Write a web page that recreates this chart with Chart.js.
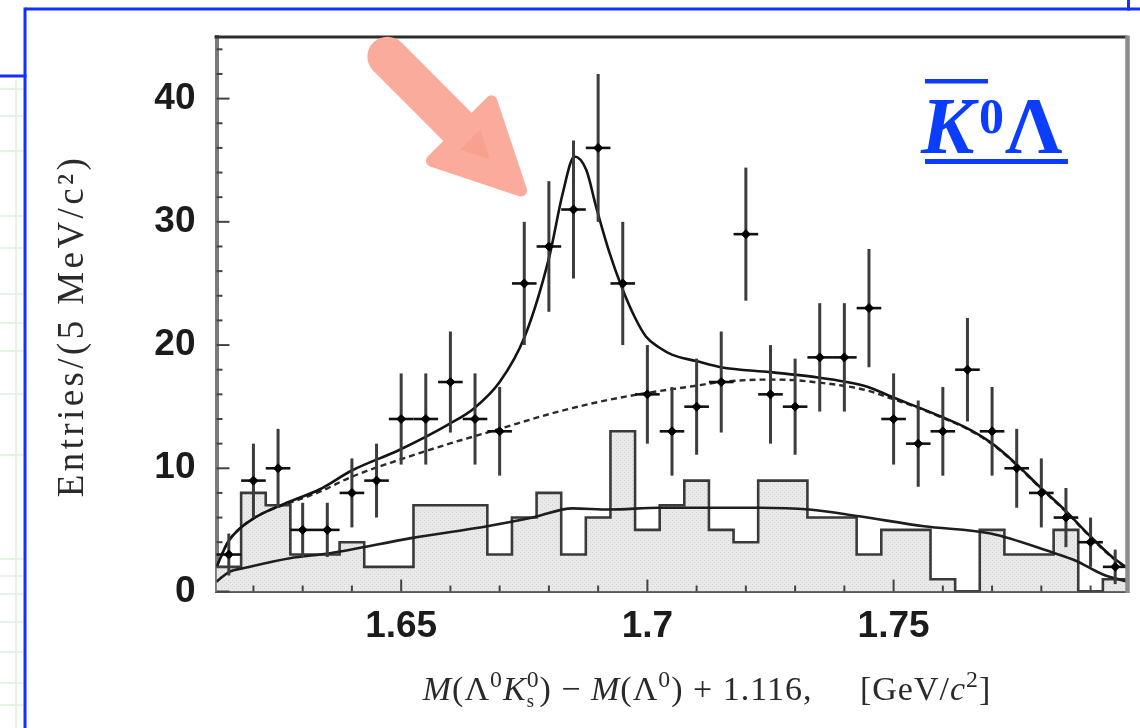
<!DOCTYPE html>
<html>
<head>
<meta charset="utf-8">
<script src="https://cdn.jsdelivr.net/npm/chart.js@4.4.1/dist/chart.umd.min.js"></script>
<style>
html,body{margin:0;padding:0;background:#fff;}
#wrap{width:1140px;height:728px;position:relative;overflow:hidden;}
</style>
</head>
<body>
<div id="wrap"><canvas id="c" width="1140" height="728"></canvas></div>
<script>
// ---------------- data ----------------
const binCenters = [1.615,1.620,1.625,1.630,1.635,1.640,1.645,1.650,1.655,1.660,1.665,1.670,1.675,1.680,1.685,1.690,1.695,1.700,1.705,1.710,1.715,1.720,1.725,1.730,1.735,1.740,1.745,1.750,1.755,1.760,1.765,1.770,1.775,1.780,1.785,1.790,1.795];
const entries = [3,9,10,5,5,8,9,14,14,17,14,13,25,28,31,36,25,16,13,15,17,29,16,15,19,19,23,14,12,13,18,13,10,8,6,4,2];
const entryErrors = [1.7,3.0,3.2,2.2,2.2,2.8,3.0,3.7,3.7,4.1,3.7,3.6,5.0,5.3,5.6,6.0,5.0,4.0,3.6,3.9,4.1,5.4,4.0,3.9,4.4,4.4,4.8,3.7,3.5,3.6,4.2,3.6,3.2,2.8,2.4,2.0,1.4];
const wrongSignHist = [2,8,7,3,3,4,2,2,7,7,7,3,6,8,3,6,13,5,7,9,5,4,9,9,6,6,3,5,5,1,0,5,3,3,5,0,1];
const binHalfWidth = 0.0025;

const fitTotalX = [1.6125,1.6148,1.6172,1.6199,1.6227,1.6274,1.6335,1.6399,1.6497,1.6598,1.6649,1.6700,1.6751,1.6801,1.6828,1.6852,1.6876,1.6896,1.6923,1.6947,1.6974,1.6997,1.7024,1.7051,1.7099,1.7149,1.7249,1.7298,1.7349,1.7398,1.7448,1.7496,1.7547,1.7596,1.7647,1.7697,1.7745,1.7794,1.7848,1.7894,1.7944,1.7975];
const fitTotalY = [2.0,4.0,5.1,5.9,6.5,7.3,8.3,9.8,11.5,13.6,14.9,17.0,20.7,27.2,32.3,35.3,34.2,31.2,27.5,24.8,22.3,20.7,19.8,19.2,18.7,18.2,17.8,17.6,17.35,17.05,16.6,15.8,15.0,14.2,13.3,12.1,10.5,8.6,6.6,4.7,2.8,1.9];

const fitBkgX = [1.6125,1.6148,1.6172,1.6199,1.6227,1.6274,1.6335,1.6399,1.6497,1.6598,1.6649,1.6700,1.6801,1.6903,1.6997,1.7099,1.7149,1.7249,1.7298,1.7349,1.7398,1.7448,1.7496,1.7547,1.7596,1.7647,1.7697,1.7745,1.7794,1.7848,1.7894,1.7944,1.7975];
const fitBkgY = [2.0,4.0,5.1,5.9,6.5,7.2,8.1,9.3,10.7,12.0,12.6,13.2,14.4,15.4,16.1,16.7,17.0,17.2,17.15,16.95,16.7,16.3,15.65,14.95,14.15,13.25,12.05,10.45,8.55,6.55,4.65,2.75,1.85];

const wsFitX = [1.6125,1.6151,1.6181,1.6274,1.6355,1.6523,1.6675,1.6767,1.6848,1.6923,1.7024,1.7227,1.7329,1.7430,1.7562,1.7697,1.7820,1.7870,1.7924,1.7975];
const wsFitY = [0.8,1.6,1.9,2.7,3.1,4.35,5.3,6.0,6.75,6.65,6.8,6.8,6.65,6.1,5.3,4.7,3.2,2.5,1.4,0.8];

const xTickValues = [1.65,1.7,1.75];
const xTickLabels = ['1.65','1.7','1.75'];
const yTickValues = [0,10,20,30,40];
const yTickLabels = ['0','10','20','30','40'];

const yTitleText = 'Entries/(5 MeV/c²)';
// arrow annotation in data coordinates (mass, entries)
const arrowTail = [1.6472, 43.4];
const arrowTip = [1.6752, 32.2];

// ---------------- helpers ----------------
const SANS = '"Liberation Sans", Arial, Helvetica, sans-serif';
const SERIF = '"Liberation Serif", "Times New Roman", serif';
const zip = (xs, ys) => xs.map((v, i) => ({x: v, y: ys[i]}));

const canvas = document.getElementById('c');
const ctx0 = canvas.getContext('2d');
const pc = document.createElement('canvas'); pc.width = 4; pc.height = 4;
const pcx = pc.getContext('2d');
pcx.fillStyle = '#e9e9e9'; pcx.fillRect(0, 0, 4, 4);
pcx.fillStyle = '#d3d3d3'; pcx.fillRect(0, 0, 1, 1); pcx.fillRect(2, 2, 1, 1);
const histPattern = ctx0.createPattern(pc, 'repeat');

const histData = binCenters.map((c, i) => ({x: c - binHalfWidth, y: wrongSignHist[i]}));
histData.push({x: binCenters[binCenters.length - 1] + binHalfWidth, y: wrongSignHist[wrongSignHist.length - 1]});

function seg(ctx, x1, y1, x2, y2) { ctx.beginPath(); ctx.moveTo(x1, y1); ctx.lineTo(x2, y2); ctx.stroke(); }

const errorBars = {
  id: 'errorBars',
  beforeDatasetDraw(chart, args) {
    const ds = chart.data.datasets[args.index];
    if (!ds.errorBars) return;
    const {ctx, scales: {x, y}} = chart;
    ctx.save();
    ds.data.forEach(p => {
      const px = x.getPixelForValue(p.x), py = y.getPixelForValue(p.y);
      ctx.strokeStyle = '#3c3c3c'; ctx.lineWidth = 3;
      seg(ctx, px, y.getPixelForValue(p.y + p.e), px, y.getPixelForValue(Math.max(0, p.y - p.e)));
      ctx.strokeStyle = '#111'; ctx.lineWidth = 2.6;
      seg(ctx, x.getPixelForValue(p.x - binHalfWidth), py, x.getPixelForValue(p.x + binHalfWidth), py);
    });
    ctx.restore();
  }
};

function richText(ctx, parts, cx, base, size, color, spacing) {
  ctx.letterSpacing = spacing + 'px';
  let w = 0;
  const items = parts.map(p => {
    const s = size * (p.scale || 1);
    const f = (p.it ? 'italic ' : '') + s + 'px ' + SERIF;
    ctx.font = f;
    let adv = ctx.measureText(p.t).width;
    if (p.sub) { ctx.font = (size * 0.55) + 'px ' + SERIF; adv = Math.max(adv, ctx.measureText(p.sub).width); }
    w += adv;
    return {p, f, adv};
  });
  let x = cx - w / 2;
  ctx.fillStyle = color; ctx.textBaseline = 'alphabetic'; ctx.textAlign = 'left';
  items.forEach(it => {
    ctx.font = it.f;
    ctx.fillText(it.p.t, x, base + (it.p.dy || 0) * size);
    if (it.p.sub) { ctx.font = (size * 0.55) + 'px ' + SERIF; ctx.fillText(it.p.sub, x, base + 0.22 * size); }
    x += it.adv;
  });
  ctx.letterSpacing = '0px';
}

const decor = {
  id: 'decor',
  afterDraw(chart) {
    const {ctx, chartArea: a, scales: {x, y}} = chart;
    ctx.save();
    // inner ticks
    ctx.strokeStyle = '#444'; ctx.lineWidth = 2;
    for (let v = 0; v <= 44; v += 2) {
      const py = y.getPixelForValue(v);
      seg(ctx, a.left, py, a.left + (v % 10 === 0 ? 13 : 6), py);
    }
    for (let k = 162; k <= 179; k++) {
      const px = x.getPixelForValue(k / 100);
      seg(ctx, px, a.bottom, px, a.bottom - (k % 5 === 0 ? 12 : 6));
    }
    // frame top/right
    ctx.strokeStyle = '#2e2e2e'; ctx.lineWidth = 3;
    seg(ctx, a.left - 2, a.top, a.right, a.top);
    ctx.strokeStyle = '#8c8c8c'; ctx.lineWidth = 4.5;
    seg(ctx, a.right, a.top - 1.5, a.right, a.bottom + 1.5);

    // y title (rotated)
    ctx.save();
    ctx.translate(73, 326); ctx.rotate(-Math.PI / 2);
    ctx.font = '37px ' + SERIF; ctx.fillStyle = '#2a2a2a';
    ctx.textAlign = 'center'; ctx.textBaseline = 'middle';
    ctx.letterSpacing = '3.4px';
    ctx.fillText(yTitleText, 0, 0);
    ctx.letterSpacing = '0px';
    ctx.restore();

    // x title
    richText(ctx, [
      {t: 'M', it: true}, {t: '(Λ'}, {t: '0', scale: 0.7, dy: -0.38}, {t: 'K', it: true},
      {t: '0', scale: 0.7, dy: -0.38, sub: 's'}, {t: ') − '}, {t: 'M', it: true}, {t: '(Λ'},
      {t: '0', scale: 0.7, dy: -0.38}, {t: ') + 1.116,     [GeV/'}, {t: 'c', it: true},
      {t: '2', scale: 0.7, dy: -0.38}, {t: ']'}
    ], 707, 700, 34, '#2a2a2a', 1);

    // K0bar Lambda label
    ctx.fillStyle = '#0a3dff'; ctx.textBaseline = 'alphabetic'; ctx.textAlign = 'left';
    ctx.font = 'italic bold 80px ' + SERIF; ctx.fillText('K', 921, 153);
    ctx.font = 'bold 50px ' + SERIF; ctx.fillText('0', 979, 133);
    ctx.font = 'bold 80px ' + SERIF; ctx.fillText('Λ', 1005, 153);
    ctx.fillRect(925, 79, 63, 4.5);
    ctx.fillRect(925, 159, 143, 5);

    // blue frame & background grid strip
    ctx.strokeStyle = '#dcf0dc'; ctx.lineWidth = 1.5;
    [89,116,151,216,248,294,323,351,394,455,559,576,594,622,652,683,705].forEach(yy => seg(ctx, 0, yy, 23, yy));
    seg(ctx, 16, 80, 16, 728);
    ctx.strokeStyle = '#1330ff'; ctx.lineWidth = 3;
    seg(ctx, 25, 9, 1140, 9);
    seg(ctx, 25, 7.5, 25, 728);
    seg(ctx, 0, 76, 26.5, 76);
    seg(ctx, 1128.5, 0, 1128.5, 10.5);

    // arrow annotation
    const tx = x.getPixelForValue(arrowTail[0]), ty = y.getPixelForValue(arrowTail[1]);
    const hx = x.getPixelForValue(arrowTip[0]), hy = y.getPixelForValue(arrowTip[1]);
    const ang = Math.atan2(hy - ty, hx - tx);
    const L = Math.hypot(hx - tx, hy - ty);
    ctx.translate(tx, ty); ctx.rotate(ang);
    ctx.fillStyle = '#fbab9b'; ctx.strokeStyle = '#fbab9b';
    ctx.lineCap = 'round'; ctx.lineJoin = 'round';
    ctx.lineWidth = 40;
    seg(ctx, 0, 0, L - 80, 0);
    ctx.lineWidth = 12;
    ctx.beginPath();
    ctx.moveTo(L - 6, 0); ctx.lineTo(L - 90, -42); ctx.lineTo(L - 90, 42); ctx.closePath();
    ctx.fill(); ctx.stroke();
    ctx.fillStyle = '#f9a190';
    ctx.beginPath(); ctx.moveTo(L - 50, 0); ctx.lineTo(L - 78, -14); ctx.lineTo(L - 78, 14); ctx.closePath(); ctx.fill();
    ctx.restore();
  }
};

new Chart(canvas, {
  type: 'line',
  data: {
    datasets: [
      {label: 'Data', type: 'scatter', data: binCenters.map((c, i) => ({x: c, y: entries[i], e: entryErrors[i]})),
       errorBars: true, pointStyle: 'rectRot', pointRadius: 4.5, pointHoverRadius: 4.5,
       backgroundColor: '#000', borderColor: '#000', borderWidth: 1, order: 0},
      {label: 'Fit (signal + background)', data: zip(fitTotalX, fitTotalY), borderColor: '#141414', borderWidth: 2.6,
       pointRadius: 0, cubicInterpolationMode: 'monotone', fill: false, order: 1},
      {label: 'Background', data: zip(fitBkgX, fitBkgY), borderColor: '#2a2a2a', borderWidth: 2.4, borderDash: [6, 4],
       pointRadius: 0, cubicInterpolationMode: 'monotone', fill: false, order: 2},
      {label: 'Wrong-sign fit', data: zip(wsFitX, wsFitY), borderColor: '#1e1e1e', borderWidth: 2.6,
       pointRadius: 0, cubicInterpolationMode: 'monotone', fill: false, order: 3},
      {label: 'Wrong-sign histogram', data: histData, stepped: 'before', fill: 'origin', backgroundColor: histPattern,
       borderColor: '#3a3a3a', borderWidth: 2.6, pointRadius: 0, order: 4}
    ]
  },
  options: {
    responsive: false, animation: false, devicePixelRatio: 1,
    layout: {padding: {left: 0, right: 12.5, top: 37, bottom: 0}},
    plugins: {legend: {display: false}, tooltip: {enabled: false}},
    scales: {
      x: {
        type: 'linear', min: 1.6125, max: 1.7975,
        afterBuildTicks: s => { s.ticks = xTickValues.map(v => ({value: v})); },
        ticks: {callback: (v, i) => xTickLabels[i], autoSkip: false, maxRotation: 0, padding: 13,
                font: {family: SANS, size: 37, weight: 'bold'}, color: '#1b1b1b'},
        grid: {display: false, drawTicks: false},
        border: {display: true, color: '#555', width: 3},
        afterFit: s => { s.height = 136.5; s.paddingLeft = 0; s.paddingRight = 0; }
      },
      y: {
        type: 'linear', min: 0, max: 45,
        afterBuildTicks: s => { s.ticks = yTickValues.map(v => ({value: v})); },
        ticks: {callback: (v, i) => yTickLabels[i], autoSkip: false, padding: 21,
                font: {family: SANS, size: 37, weight: 'bold'}, color: '#1b1b1b'},
        grid: {display: false, drawTicks: false},
        border: {display: true, color: '#7a7a7a', width: 4},
        title: {display: false},
        afterFit: s => { s.width = 216.5; s.paddingTop = 0; s.paddingBottom = 0; }
      }
    }
  },
  plugins: [errorBars, decor]
});
</script>
</body>
</html>
